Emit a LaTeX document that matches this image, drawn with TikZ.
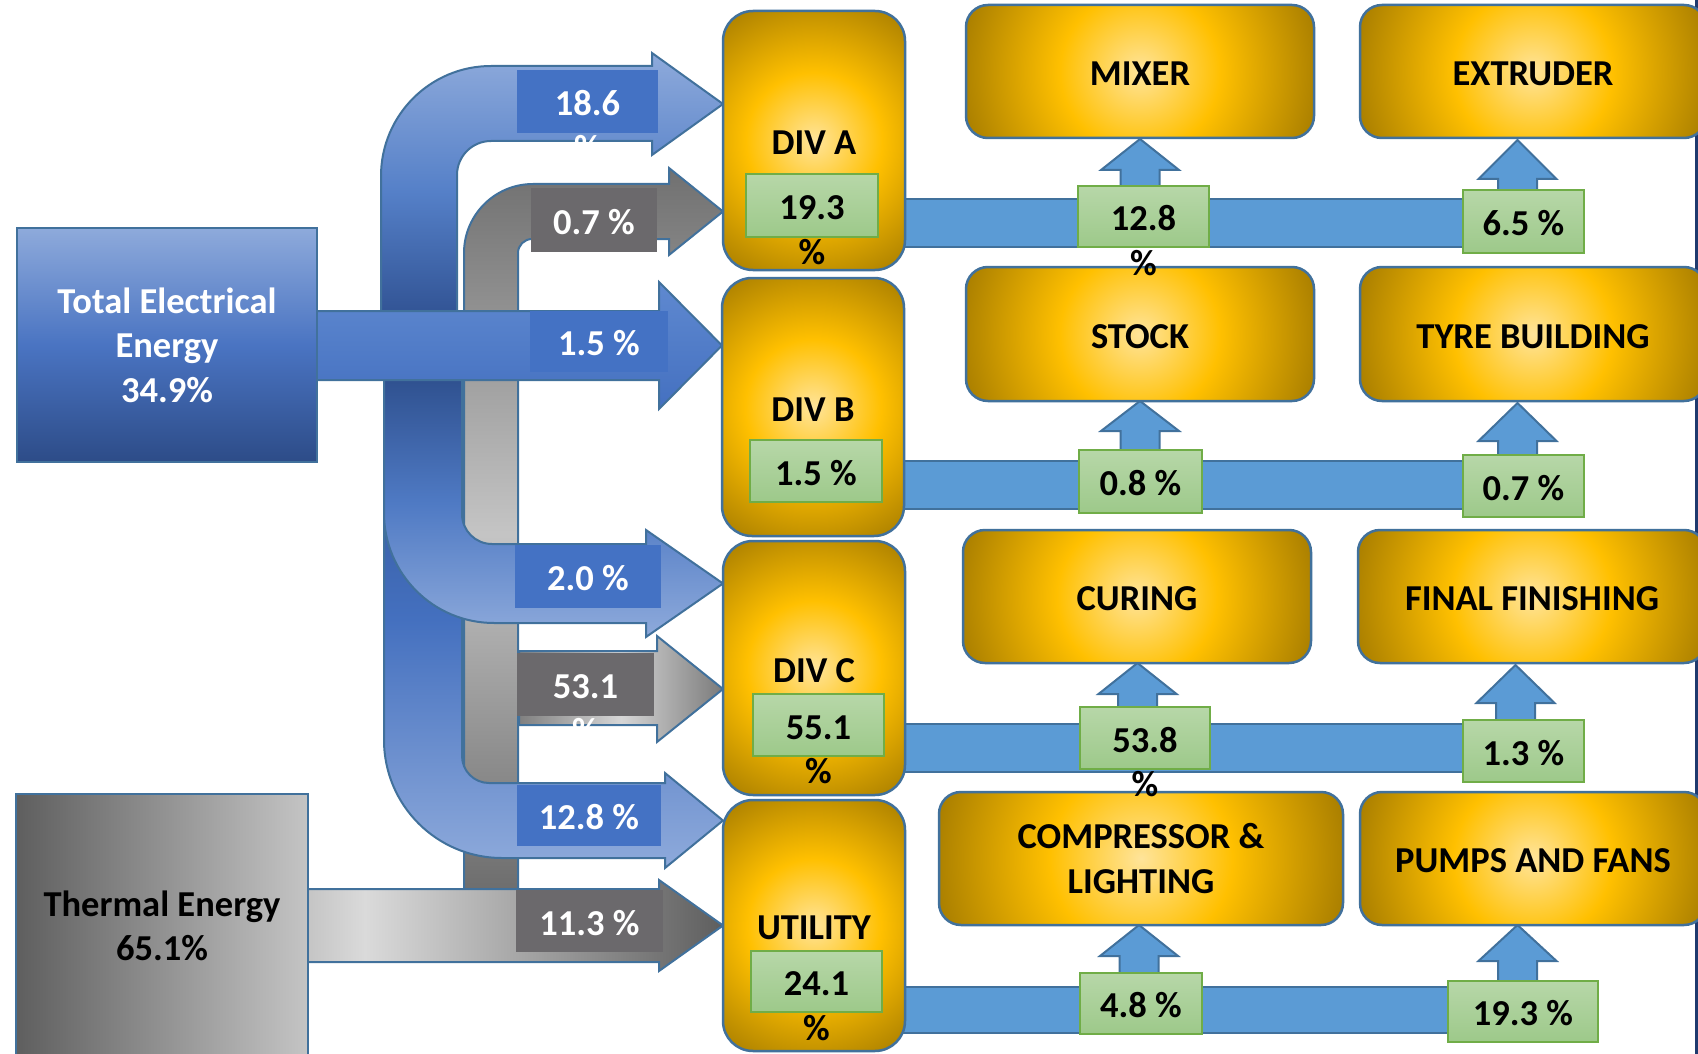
\documentclass[tikz,border=0pt]{standalone}
\usepackage{fontspec}
\setmainfont{Carlito}
\usetikzlibrary{calc}
\definecolor{bord}{HTML}{41719C}
\definecolor{lblue}{HTML}{4472C4}
\definecolor{lgray}{HTML}{6B696C}
\definecolor{barblue}{HTML}{5B9BD5}
\definecolor{gtop}{HTML}{B7D7A8}
\definecolor{gbot}{HTML}{9DC98A}
\definecolor{gbord}{HTML}{70AD47}
\definecolor{yl}{HTML}{FFE49A}
\definecolor{yg}{HTML}{FFC000}
\definecolor{yd}{HTML}{A67C00}
\definecolor{navy}{HTML}{1F3A6E}
\definecolor{tA}{HTML}{C2C2C2}
\definecolor{tB}{HTML}{DADADA}
\definecolor{tC}{HTML}{A6A6A6}
\definecolor{tD}{HTML}{5E5E5E}
\pgfdeclareradialshading{yrad}{\pgfpoint{0bp}{0bp}}{color(0bp)=(yl); color(10.75bp)=(yg); color(25bp)=(yd); color(50bp)=(yd)}
\pgfdeclarehorizontalshading{thermsh}{100bp}{color(0bp)=(tA); color(25bp)=(tA); color(32.7bp)=(tB); color(51bp)=(tC); color(75bp)=(tD); color(100bp)=(tD)}
\newcommand\lblfont{\fontsize{36.5pt}{44.5pt}\selectfont\bfseries}
\newcommand\myup[4]{\path[uparr] (#1-19.5,#4) -- (#1-19.5,#3) -- (#1-39,#3) -- (#1,#2) -- (#1+39,#3) -- (#1+19.5,#3) -- (#1+19.5,#4) -- cycle;}
\tikzset{
  every node/.style={font=\lblfont},
  arrline/.style={draw=bord, line width=2pt, line join=miter},
  barstyle/.style={fill=barblue, draw=bord, line width=2pt},
  uparr/.style={fill=barblue, draw=bord, line width=2pt, line join=miter},
  onel/.style={text height=28.5pt, text depth=0pt},
  wh/.style 2 args={minimum width=#1pt, minimum height=#2pt},
  bluelbl/.style={fill=lblue, text=white, inner sep=0pt, onel},
  graylbl/.style={fill=lgray, text=white, inner sep=0pt, onel},
  greenlbl/.style={top color=gtop, bottom color=gbot, draw=gbord, line width=1.5pt, inner sep=0pt, onel},
  ybox/.style={rounded corners=#1, draw=bord, line width=2.5pt, inner sep=0pt, align=center,
    path picture={\shade[shading=yrad] let \p1=(path picture bounding box.center), \p2=(path picture bounding box.north east), \n1={veclen(\x2-\x1,\y2-\y1)} in (\x1-\n1,\y1-\n1) rectangle (\x1+\n1,\y1+\n1);}},
  srcbox/.style={draw=bord, line width=2.5pt, inner sep=0pt, align=center}
}
\begin{document}
\begin{tikzpicture}[x=1pt, y=-1pt]
\useasboundingbox (0,0) rectangle (1698,1054);
\fill[white] (0,0) rectangle (1698,1054);
% right edge line
\draw[navy, line width=3pt] (1696.5,0) -- (1696.5,1054);
% horizontal bars
\path[barstyle] (895,199) rectangle (1480,247);
\path[barstyle] (895,461) rectangle (1480,509);
\path[barstyle] (895,724) rectangle (1480,772);
\path[barstyle] (895,987) rectangle (1470,1033);
% up arrows
\myup{1140}{139}{170}{215}
\myup{1517.5}{140}{179}{215}
\myup{1140}{401}{431}{480}
\myup{1517.5}{403}{441}{480}
\myup{1137.5}{663}{694}{740}
\myup{1515.5}{665}{703}{745}
\myup{1139}{925}{956}{1000}
\myup{1517.5}{925}{961}{1005}
% gray bent arrow (0.7 %) with long vertical
\path[arrline, top color=black!56, bottom color=black!58, middle color=black!23]
  (464,900) -- (464,253) arc[start angle=180, end angle=90, radius=69pt]
  -- (669,184) -- (669,168) -- (723,211.5) -- (669,255) -- (669,239) -- (532,239)
  arc[start angle=90, end angle=180, radius=14pt] -- (518,900) -- cycle;
% blue bent arrow 18.6 %
\path[arrline, top color=blue!0!white, top color={rgb,255:red,142;green,170;blue,219}, bottom color={rgb,255:red,45;green,78;blue,142}, middle color={rgb,255:red,85;green,128;blue,200}]
  (381,330) -- (381,176) arc[start angle=180, end angle=90, radius=110pt]
  -- (652,66) -- (652,53) -- (723,104) -- (652,155) -- (652,141) -- (491,141)
  arc[start angle=90, end angle=180, radius=34pt] -- (457,330) -- cycle;
% blue bent arrow 12.8 %
\path[arrline, top color={rgb,255:red,45;green,78;blue,140}, bottom color={rgb,255:red,142;green,170;blue,219}, middle color={rgb,255:red,68;green,112;blue,191}]
  (384,370) -- (384,740) arc[start angle=180, end angle=270, radius=118pt]
  -- (665,858) -- (665,868) -- (723,820.5) -- (665,773) -- (665,783) -- (489,783)
  arc[start angle=270, end angle=180, radius=27pt] -- (462,370) -- cycle;
% blue bent arrow 2.0 %
\path[arrline, top color={rgb,255:red,45;green,78;blue,140}, bottom color={rgb,255:red,142;green,170;blue,219}, middle color={rgb,255:red,79;green,122;blue,196}]
  (384,370) -- (384,513) arc[start angle=180, end angle=270, radius=110pt]
  -- (646,623) -- (646,637) -- (723,583.5) -- (646,530) -- (646,544) -- (492,544)
  arc[start angle=270, end angle=180, radius=30pt] -- (462,370) -- cycle;
% gray arrow 53.1 %
\path[arrline, left color=black!50, right color=black!52, middle color=black!16]
  (519,651) -- (657,651) -- (657,636) -- (723,689) -- (657,742) -- (657,725) -- (519,725) -- cycle;
% total electrical arrow
\path[arrline, top color={rgb,255:red,95;green,137;blue,208}, bottom color={rgb,255:red,68;green,112;blue,192}]
  (300,311) -- (659,311) -- (659,282) -- (722,345.5) -- (659,409) -- (659,380) -- (300,380) -- cycle;
\node[srcbox, wh={300}{234}, text=white, top color={rgb,255:red,142;green,170;blue,219}, bottom color={rgb,255:red,45;green,76;blue,136}, middle color={rgb,255:red,74;green,116;blue,194}] (tot) at (167,345) {Total Electrical\\Energy\\34.9\%};
% thermal arrow
\path[arrline, shading=thermsh]
  (300,889) -- (659,889) -- (659,880) -- (723,925.5) -- (659,971) -- (659,962) -- (300,962) -- cycle;
\node[srcbox, wh={292}{264}, text=black, left color=black!63, right color=black!23] (therm) at (162,926) {Thermal Energy\\65.1\%};
% flow labels
\node[bluelbl, wh={141}{63}] (l186) at (587.5,101.5) {18.6};
\node[onel, text=white] (l186p) at ([yshift=-44.5pt]l186.center) {\%};
\node[graylbl, wh={126}{64}] (l07) at (594,220) {0.7 \%};
\node[bluelbl, wh={138}{61}] (l15) at (599,341.5) {1.5 \%};
\node[bluelbl, wh={146}{63}] (l20) at (588,576.5) {2.0 \%};
\node[graylbl, wh={137}{63}] (l531) at (585.5,684.5) {53.1};
\node[onel, text=white] (l531p) at ([yshift=-44.5pt]l531.center) {\%};
\node[bluelbl, wh={144}{61}] (l128) at (589,815.5) {12.8 \%};
\node[graylbl, wh={147}{62}] (l113) at (589.5,921) {11.3 \%};
% division boxes
\node[ybox=30pt, onel, wh={182}{259}] (divA) at (814,140.5) {DIV A};
\node[ybox=30pt, onel, wh={182}{258}] (divB) at (813,407) {DIV B};
\node[ybox=30pt, onel, wh={182}{254}] (divC) at (814,668) {DIV C};
\node[ybox=30pt, onel, wh={182}{251}] (util) at (814,925.5) {UTILITY};
% process boxes
\node[ybox=22pt, onel, wh={348}{133}] (mixer) at (1140,71.5) {MIXER};
\node[ybox=22pt, onel, wh={346}{133}] (extr) at (1533,71.5) {EXTRUDER};
\node[ybox=22pt, onel, wh={348}{134}] (stock) at (1140,334) {STOCK};
\node[ybox=22pt, onel, wh={346}{134}] (tyre) at (1533,334) {TYRE BUILDING};
\node[ybox=22pt, onel, wh={348}{133}] (curing) at (1137,596.5) {CURING};
\node[ybox=22pt, onel, wh={348}{133}] (final) at (1532,596.5) {FINAL FINISHING};
\node[ybox=22pt, wh={404}{133}] (comp) at (1141,858.5) {COMPRESSOR \&\\LIGHTING};
\node[ybox=22pt, onel, wh={346}{133}] (pumps) at (1533,858.5) {PUMPS AND FANS};
% green labels in divisions
\node[greenlbl, wh={132}{63}] (g193) at (812,205.5) {19.3};
\node[onel] (g193p) at ([yshift=-44.5pt]g193.center) {\%};
\node[greenlbl, wh={132}{62}] (g15) at (816,471) {1.5 \%};
\node[greenlbl, wh={131}{62}] (g551) at (818.5,725) {55.1};
\node[onel] (g551p) at ([yshift=-44.5pt]g551.center) {\%};
\node[greenlbl, wh={131}{61}] (g241) at (816.5,981.5) {24.1};
\node[onel] (g241p) at ([yshift=-44.5pt]g241.center) {\%};
% green labels on bars
\node[greenlbl, wh={131}{61}] (g128) at (1143.5,216.5) {12.8};
\node[onel] (g128p) at ([yshift=-44.5pt]g128.center) {\%};
\node[greenlbl, wh={121}{63}] (g65) at (1523.5,221.5) {6.5 \%};
\node[greenlbl, wh={123}{63}] (g08) at (1140.5,481.5) {0.8 \%};
\node[greenlbl, wh={121}{62}] (g07) at (1523.5,486) {0.7 \%};
\node[greenlbl, wh={130}{62}] (g538) at (1145,738) {53.8};
\node[onel] (g538p) at ([yshift=-44.5pt]g538.center) {\%};
\node[greenlbl, wh={121}{62}] (g13) at (1523.5,751) {1.3 \%};
\node[greenlbl, wh={122}{61}] (g48) at (1141,1003.5) {4.8 \%};
\node[greenlbl, wh={150}{61}] (g193b) at (1523,1011.5) {19.3 \%};
\end{tikzpicture}
\end{document}
